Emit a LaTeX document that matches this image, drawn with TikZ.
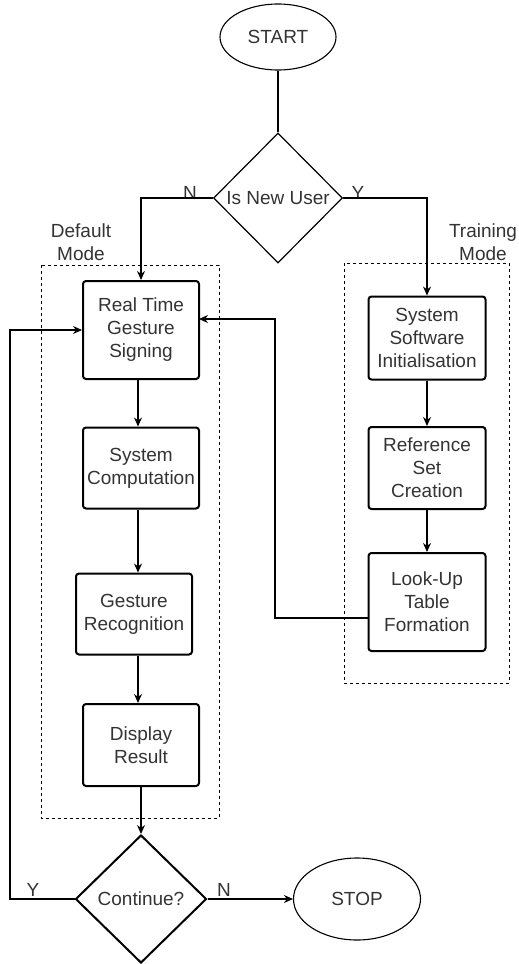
\documentclass[tikz,border=0pt]{standalone}
\usepackage{fontspec}
\setmainfont{Liberation Sans}
\usetikzlibrary{shapes.geometric,arrows.meta}
\definecolor{txt}{HTML}{333333}
\begin{document}
\begin{tikzpicture}[x=1pt,y=-1pt,
  every node/.style={font=\fontsize{19}{23}\selectfont, text=txt},
  proc/.style={draw, line width=2pt, rounded corners=3pt, minimum width=116pt, align=center, inner sep=0pt},
  term/.style={draw, ellipse, line width=1.1pt, inner sep=0pt},
  dec/.style={draw, diamond, inner sep=0pt},
  conn/.style={line width=1.2pt, -{Stealth[length=9pt,width=8pt]}},
  plain/.style={line width=1.2pt},
  grp/.style={draw, line width=1pt, dash pattern=on 3pt off 3pt},
  lbl/.style={align=center, inner sep=0pt}]
\useasboundingbox (0,0) rectangle (519,964);
% groups
\draw[grp] (41,265) rectangle (219,818);
\draw[grp] (344,263) rectangle (509,683);
\node[lbl] (dml) at (81,242) {Default\\Mode};
\node[lbl] (tml) at (483,242) {Training\\Mode};
% nodes
\node[term, minimum width=116pt, minimum height=66pt] (start) at (278,37) {START};
\node[dec, line width=1.2pt, minimum width=129pt, minimum height=130pt] (nu) at (278,198) {Is New User};
\node[proc, minimum height=98pt] (rt) at (141,330) {Real Time\\Gesture\\Signing};
\node[proc, minimum height=81pt] (sc) at (141,468) {System\\Computation};
\node[proc, minimum height=81pt] (gr) at (134,614) {Gesture\\Recognition};
\node[proc, minimum height=82pt] (dr) at (141,745) {Display\\Result};
\node[dec, line width=2pt, minimum width=131pt, minimum height=128pt] (cont) at (141,899) {Continue?};
\node[term, minimum width=127pt, minimum height=82pt] (stop) at (357,899) {STOP};
\node[proc, minimum width=117pt, minimum height=83pt] (ssi) at (427,338) {System\\Software\\Initialisation};
\node[proc, minimum width=117pt, minimum height=82pt] (rsc) at (427,468) {Reference\\Set\\Creation};
\node[proc, minimum width=117pt, minimum height=98pt] (lut) at (427,602) {Look-Up\\Table\\Formation};
% labels
\node[lbl] (ln1) at (190,193) {N};
\node[lbl] (ly1) at (358,193) {Y};
\node[lbl] (ly2) at (33,890) {Y};
\node[lbl] (ln2) at (224,890) {N};
% connectors
\draw[plain] (start.south) -- (nu.north);
\draw[conn] (nu.west) -| (rt.north);
\draw[conn] (nu.east) -| (ssi.north);
\draw[conn] (rt.south -| 138,0) -- (sc.north -| 138,0);
\draw[conn] (sc.south -| 138,0) -- (gr.north -| 138,0);
\draw[conn] (gr.south -| 138,0) -- (dr.north -| 138,0);
\draw[conn] (dr.south) -- (cont.north);
\coordinate (yl) at (10,899);
\draw[conn] (cont.west) -- (yl) |- (rt.west);
\draw[conn] (cont.east) -- (stop.west);
\coordinate (lk) at (275,618);
\coordinate (rtin) at (199,319);
\draw[conn] (lut.west |- lk) -- (lk) |- (rtin);
\draw[conn] (ssi.south) -- (rsc.north);
\draw[conn] (rsc.south) -- (lut.north);
\end{tikzpicture}
\end{document}
